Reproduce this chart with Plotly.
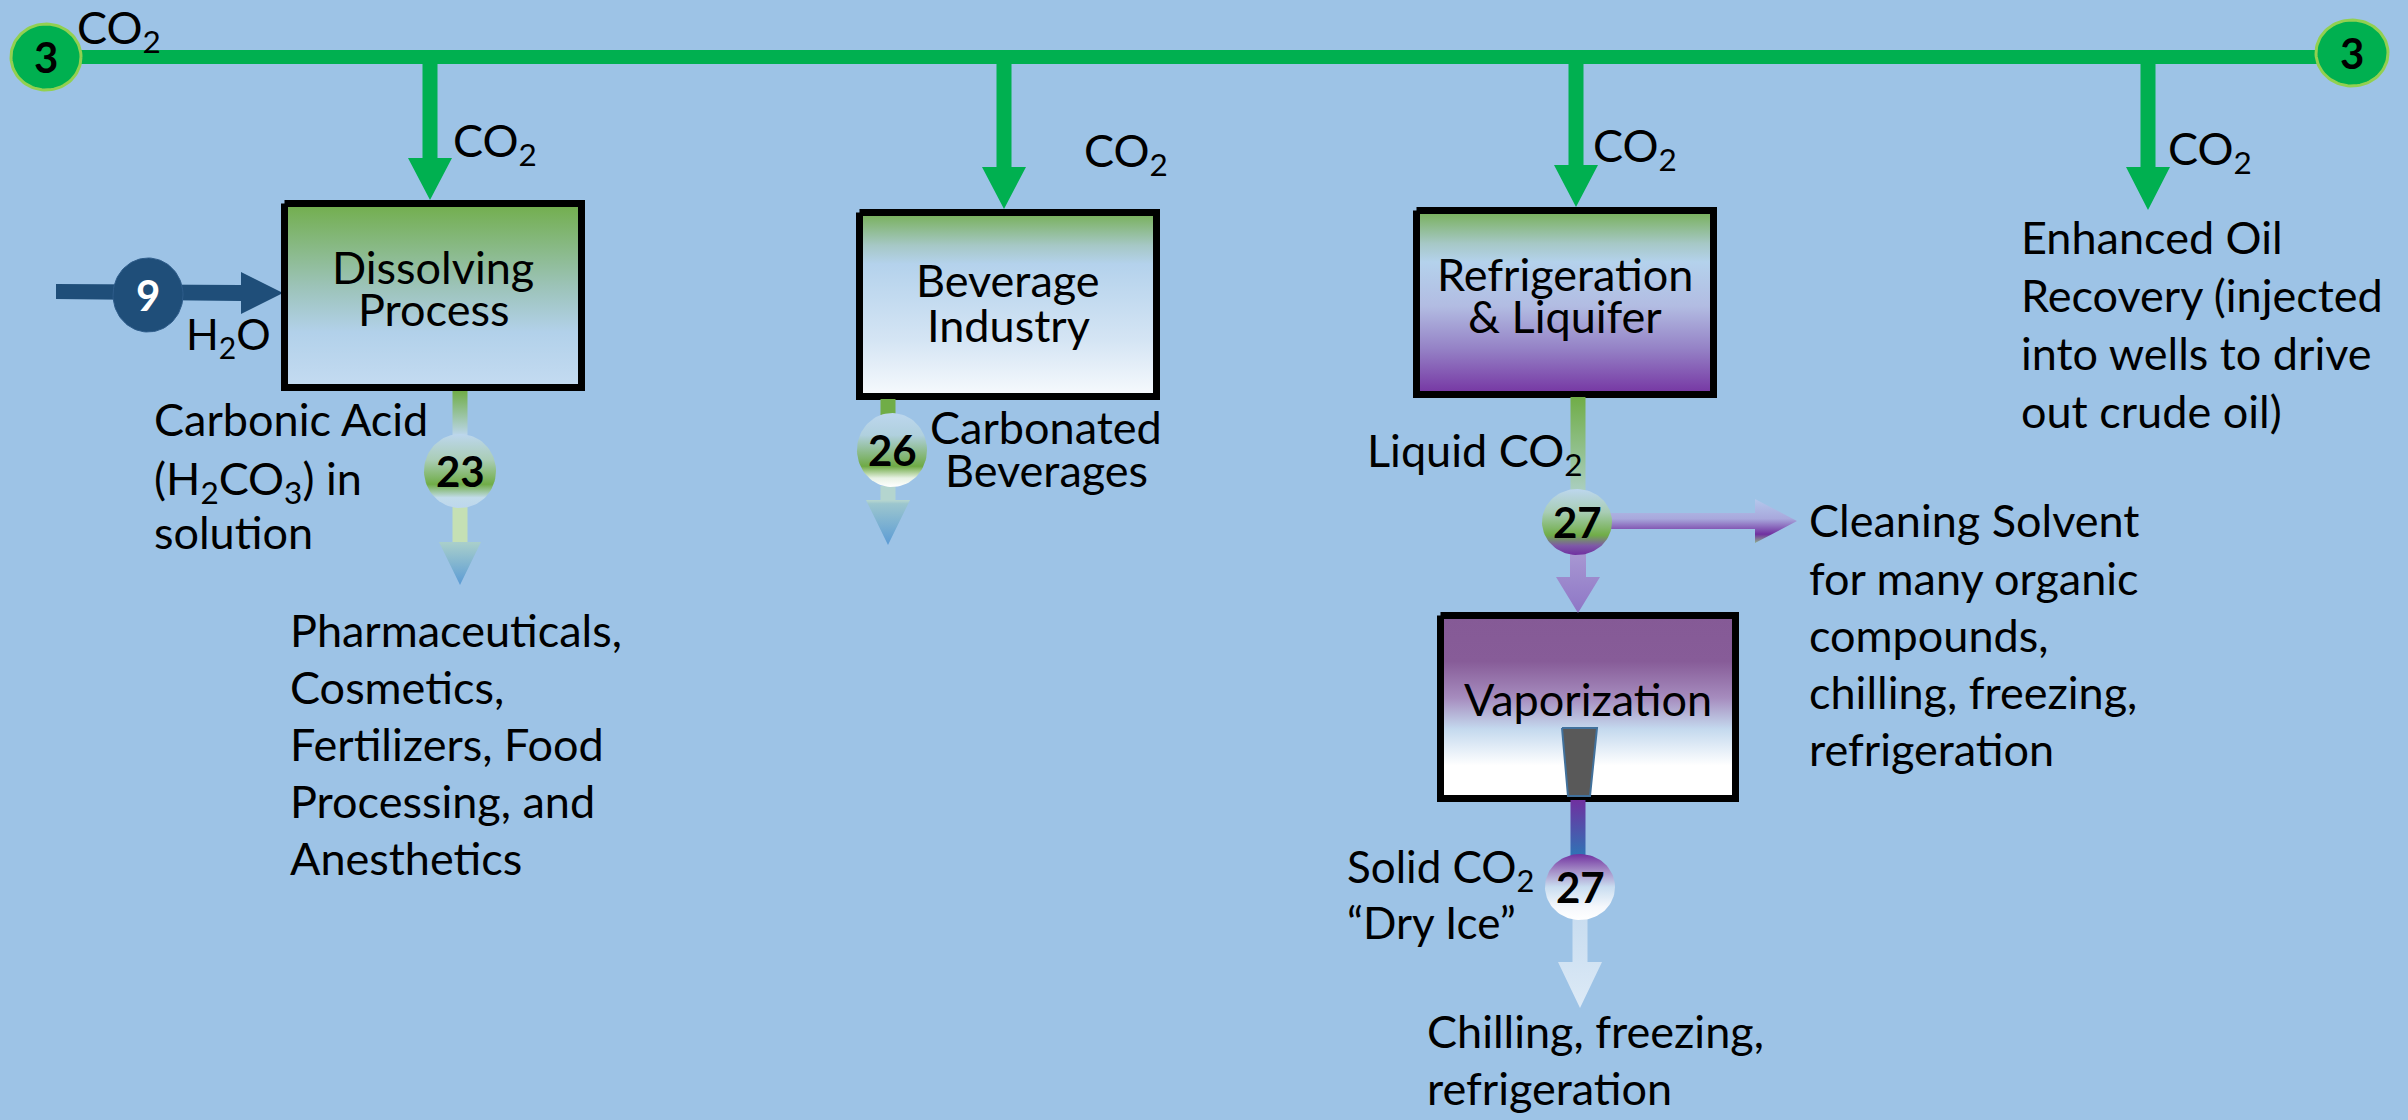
import numpy as np
import plotly.graph_objects as go

W, H = 2408, 1120
BG = '#9DC3E6'
FONT = 'Lato'
FS = 45
GREEN = '#00B050'
NAVY = '#1F4E79'
PURPLE = '#7030A0'

# ---------------- text content ----------------
node_labels = ["3", "3", "9", "23", "26", "27", "27"]
process_lines = [["Dissolving", "Process"], ["Beverage", "Industry"],
                 ["Refrigeration", "& Liquifer"], ["Vaporization"]]
co2_label = "CO<sub>2</sub>"
water_label = "H<sub>2</sub>O"
acid_lines = ["Carbonic Acid", "(H<sub>2</sub>CO<sub>3</sub>) in", "solution"]
pharma_lines = ["Pharmaceuticals,", "Cosmetics,", "Fertilizers, Food",
                "Processing, and", "Anesthetics"]
bev_lines = ["Carbonated", "Beverages"]
liquid_label = "Liquid CO<sub>2</sub>"
solvent_lines = ["Cleaning Solvent", "for many organic", "compounds,",
                 "chilling, freezing,", "refrigeration"]
eor_lines = ["Enhanced Oil", "Recovery (injected", "into wells to drive",
             "out crude oil)"]
dryice_lines = ["Solid CO<sub>2</sub>", "\u201cDry Ice\u201d"]
chill_lines = ["Chilling, freezing,", "refrigeration"]

# ---------------- layout geometry (pixels) ----------------
boxes = [  # x0, x1, y0, y1, gradient
    (281, 585, 200, 391, [[0, '#72AE4C'], [0.45, '#9CC3B8'], [0.7, '#B2D1EA'], [1, '#C4DBF1']]),
    (856, 1160, 209, 400, [[0, '#76AF55'], [0.18, '#A6C8C6'], [0.28, '#B4D2EC'], [0.7, '#D5E5F4'], [1, '#F7FAFD']]),
    (1413, 1717, 207, 398, [[0, '#76AF55'], [0.18, '#A6C8C6'], [0.28, '#B4D2EC'], [0.52, '#B2BCE2'], [0.75, '#9582C6'], [1, '#7534A2']]),
    (1437, 1739, 612, 802, [[0, '#855A96'], [0.25, '#875C98'], [0.45, '#A68CBE'], [0.62, '#C4D9EE'], [0.82, '#FFFFFF'], [1, '#FFFFFF']]),
]

fig = go.Figure()


def add_poly(xs, ys, fill=None, grad=None, lc=None, lw=0):
    xs = list(xs) + [xs[0]]
    ys = list(ys) + [ys[0]]
    kw = dict(x=xs, y=ys, mode='lines', fill='toself', hoverinfo='skip',
              showlegend=False,
              line=dict(width=lw, color=lc if lc else 'rgba(0,0,0,0)'))
    if grad is not None:
        kw['fillgradient'] = dict(type='vertical', colorscale=grad,
                                  start=min(ys), stop=max(ys))
    else:
        kw['fillcolor'] = fill
    fig.add_trace(go.Scatter(**kw))


def down_arrow(cx, y0, yh, yt, sw, hw, fill=None, grad=None):
    xs = [cx - sw, cx + sw, cx + sw, cx + hw, cx, cx - hw, cx - sw]
    ys = [y0, y0, yh, yh, yt, yh, yh]
    add_poly(xs, ys, fill=fill, grad=grad)


def right_arrow(cy, x0, xh, xt, sw, hw, fill=None, grad=None):
    xs = [x0, xh, xh, xt, xh, xh, x0]
    ys = [cy - sw, cy - sw, cy - hw, cy, cy + hw, cy + sw, cy + sw]
    add_poly(xs, ys, fill=fill, grad=grad)


def ellipse(cx, cy, rx, ry, fill=None, grad=None, lc=None, lw=0):
    t = np.linspace(0, 2 * np.pi, 90)
    add_poly(cx + rx * np.cos(t), cy + ry * np.sin(t), fill=fill, grad=grad, lc=lc, lw=lw)


def rect(x0, x1, y0, y1, fill=None, grad=None, lc=None, lw=0):
    add_poly([x0, x1, x1, x0], [y0, y0, y1, y1], fill=fill, grad=grad, lc=lc, lw=lw)


# main CO2 header line
rect(40, 2330, 50, 64, fill=GREEN)
# drops from the header
for cx, yh, yt, hw in [(430, 158, 200, 22), (1004, 167, 209, 22),
                       (1576, 165, 207, 22), (2148, 167, 210, 22)]:
    down_arrow(cx, 60, yh, yt, 7.5, hw, fill=GREEN)

# water inlet
add_poly([56, 241, 241, 283, 241, 241, 56], [284, 285, 272, 293, 314, 301, 299], fill=NAVY)

# process boxes
for x0, x1, y0, y1, g in boxes:
    rect(x0 + 3.5, x1 - 3.5, y0 + 3.5, y1 - 3.5, grad=g, lc='black', lw=7)

# dissolving outlet
rect(452.5, 467.5, 391, 436, grad=[[0, '#70AD47'], [1, '#BDD7EE']])
down_arrow(460, 506, 542, 585, 7.5, 21,
           grad=[[0, '#C5E0B4'], [0.45, '#C5E0B4'], [0.46, '#A9CFCB'], [1, '#5B9BD5']])
# beverage outlet
rect(880.5, 895.5, 399, 415, fill='#70AD47')
down_arrow(888, 486, 500, 545, 7.5, 22,
           grad=[[0, '#B4D5CF'], [0.25, '#B4D5CF'], [0.3, '#9CC6CE'], [1, '#5B9BD5']])
# refrigeration outlet
rect(1570.5, 1585.5, 397, 492, grad=[[0, '#70AD47'], [1, '#ABCFC2']])
right_arrow(521, 1605, 1755, 1797, 8, 22,
            grad=[[0, '#B4C8EC'], [0.45, '#A8A8DC'], [0.8, '#7030A0'], [1, '#8FB08A']])
down_arrow(1578, 552, 577, 613, 8, 22,
           grad=[[0, '#A898D2'], [1, '#8E76C6']])
# vaporization
add_poly([1562, 1597, 1590, 1568], [728, 728, 796, 796], fill='#595959', lc='#41719C', lw=2)
rect(1570.5, 1585.5, 800, 857, grad=[[0, '#7030A0'], [1, '#2E75B6']])
down_arrow(1580, 917, 962, 1008, 7.5, 22,
           grad=[[0, '#C9DDF0'], [0.5, '#D2E3F3'], [1, '#DDEAF6']])

# nodes
ellipse(46, 57, 35, 33, fill=GREEN, lc='#92D050', lw=3)
ellipse(2352, 53, 36, 33, fill=GREEN, lc='#92D050', lw=3)
ellipse(148, 295, 35, 37, fill=NAVY, lc='#2E5C8A', lw=1)
ellipse(460, 471, 36, 37, grad=[[0, '#BDD7EE'], [0.35, '#AACDB6'], [0.68, '#70AD47'], [0.86, '#C2DCEA'], [1, '#BDD7EE']])
ellipse(892, 450, 35, 37, grad=[[0, '#BDD7EE'], [0.3, '#B0D0DE'], [0.72, '#6FAA45'], [0.88, '#E8F2E4'], [1, '#FFFFFF']])
ellipse(1577, 522, 35, 33, grad=[[0, '#BDD7EE'], [0.35, '#A8CDB5'], [0.7, '#70AD47'], [0.86, '#7E58A8'], [1, '#7030A0']])
ellipse(1580, 887, 35, 33, grad=[[0, '#7030A0'], [0.25, '#A48CC6'], [0.5, '#C9DDF0'], [0.8, '#F5F8FC'], [1, '#FFFFFF']])

node_pos = [(46, 57, 'black'), (2352, 53, 'black'), (148, 295, 'white'),
            (460, 471, 'black'), (892, 450, 'black'), (1577, 522, 'black'),
            (1580, 887, 'black')]

ann = []


def txt(s, x, base, anchor='left', size=FS, color='black', family=FONT):
    off = 0.39 * size
    if '<sub>' in s:
        off -= 0.12 * size
    ann.append(dict(text=s, x=x, y=base - off, xref='x', yref='y',
                    xanchor=anchor, yanchor='middle', showarrow=False,
                    borderpad=0, borderwidth=0,
                    font=dict(family=family, size=size, color=color)))


def block(lines, x, base0, step, anchor='left', size=FS):
    for i, s in enumerate(lines):
        txt(s, x, base0 + i * step, anchor=anchor, size=size)


for lab, (x, y, c) in zip(node_labels, node_pos):
    ann.append(dict(text='<b>%s</b>' % lab, x=x, y=y, xref='x', yref='y',
                    xanchor='center', yanchor='middle', showarrow=False,
                    font=dict(family=FONT, size=42, color=c)))

for x, b in [(77, 42), (453, 155), (1084, 165), (1593, 160), (2168, 163)]:
    txt(co2_label, x, b)
txt(water_label, 186, 348, size=43)
block(acid_lines, 154, 437, 56.5)
block(pharma_lines, 290, 648, 57)
block(bev_lines, 1046, 445, 43, anchor='center')
txt(liquid_label, 1367, 465)
block(solvent_lines, 1809, 538, 57.2)
block(eor_lines, 2021, 255, 57.7)
block(dryice_lines, 1347, 881, 58, size=44)
block(chill_lines, 1427, 1049, 57)

# box captions
block(process_lines[0], 433, 285, 42, anchor='center')
block(process_lines[1], 1008, 298, 45, anchor='center')
block(process_lines[2], 1565, 292, 42, anchor='center')
block(process_lines[3], 1588, 717, 42, anchor='center')

fig.update_layout(
    width=W, height=H, margin=dict(l=0, r=0, t=0, b=0),
    paper_bgcolor=BG, plot_bgcolor=BG, showlegend=False,
    xaxis=dict(range=[0, W], visible=False, fixedrange=True),
    yaxis=dict(range=[H, 0], visible=False, fixedrange=True),
    annotations=ann,
)
fig.write_html("out.html",
               config={'displayModeBar': False},
               post_script="document.body.style.margin='0';"
                           "document.body.style.background='%s';"
                           "document.body.style.overflow='hidden';" % BG)
